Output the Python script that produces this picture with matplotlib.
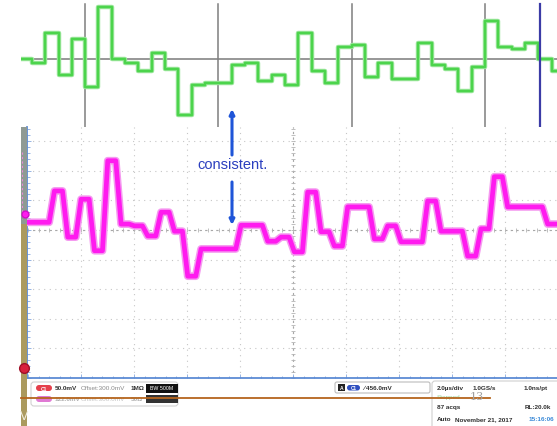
import numpy as np
import matplotlib.pyplot as plt
from matplotlib.patches import Rectangle, FancyBboxPatch
from matplotlib.ticker import MultipleLocator, NullFormatter

# digitised samples (ADC codes), one per sample period
codes = [0, -2, 13, -8, 10, -14, 26, 0, -2, -6, 3, -5, -28, -13, -12, -12, -3, -2,
         -11, -8, -13, 13, -6, -12, 6, 7, -9, -2, -10, -10, 8, -3, -5, -16, -4, 19,
         6, 5, 8, 0, -6]
# analog channel level held during each sample (mV)
levels_mv = [313, 313, 366, 288, 352, 265, 417, 310, 307, 290, 330, 298, 222, 268,
             268, 268, 308, 308, 281, 288, 263, 364, 297, 273, 339, 339, 285, 307,
             280, 280, 349, 298, 298, 256, 302, 390, 339, 339, 339, 310, 310]
sample_period_us = 0.503
first_edge_us = -0.358
marker_edges = [5, 15, 25, 35]
cursor_us = 19.32

# scope settings
us_per_div = 2.0
mv_per_div = 50.0
offset_mv = 300.0

W, H = 557, 427
fig = plt.figure(figsize=(W / 100, H / 100), dpi=100)
fig.patch.set_facecolor('white')
plt.rcParams['font.family'] = ['Liberation Sans', 'DejaVu Sans']


def px_box(x0, y0, x1, y1):
    return [x0 / W, 1 - y1 / H, (x1 - x0) / W, (y1 - y0) / H]


px_per_us = 26.5
px_per_div_y = 29.6
t_right = (W - 28) / px_per_us

edges = first_edge_us + sample_period_us * np.arange(len(codes) + 1)

# ---- top panel: sampled values as steps ----
ax_top = fig.add_axes(px_box(21, 0, W, 128))
ax_top.set_xlim((21 - 28) / px_per_us, t_right)
ax_top.set_ylim(-34, 30)
ax_top.axis('off')
ax_top.axhline(0, color='#7a7a7a', lw=1.1, zorder=1)
for e in marker_edges:
    ax_top.axvline(edges[e], ymin=0, ymax=1 - 5 / 128, color='#7f7f7f', lw=1.1, zorder=1)
ax_top.axvline(cursor_us, ymin=0, ymax=1 - 5 / 128, color='#3b3ba6', lw=1.6, zorder=3)
ax_top.step(edges, codes + [codes[-1]], where='post', color='#9be69b', lw=3.2, zorder=2)
ax_top.step(edges, codes + [codes[-1]], where='post', color='#4cd44c', lw=1.7, zorder=2)

# ---- main graticule with analog trace ----
ax = fig.add_axes(px_box(27, 128, W, 379))
ax.set_xlim(-1 / px_per_us, t_right)
ylo = offset_mv - (379 - 231) / px_per_div_y * mv_per_div
yhi = offset_mv + (231 - 128) / px_per_div_y * mv_per_div
ax.set_ylim(ylo, yhi)
ax.set_facecolor('white')
for s in ['top', 'right']:
    ax.spines[s].set_visible(False)
for s in ['left', 'bottom']:
    ax.spines[s].set_color('#5d8bd4')
    ax.spines[s].set_linewidth(1.3)
ax.xaxis.set_major_locator(MultipleLocator(us_per_div))
ax.xaxis.set_minor_locator(MultipleLocator(us_per_div / 5))
ax.yaxis.set_major_locator(MultipleLocator(mv_per_div))
ax.yaxis.set_minor_locator(MultipleLocator(mv_per_div / 5))
ax.xaxis.set_major_formatter(NullFormatter())
ax.yaxis.set_major_formatter(NullFormatter())
ax.tick_params(which='both', direction='in', color='#86a8de', width=0.6)
ax.tick_params(which='major', length=3)
ax.tick_params(which='minor', length=1.8)

dot = (0, (1, 4))
for t in np.arange(us_per_div, t_right, us_per_div):
    ax.axvline(t, color='#c6c6c6', lw=0.8, ls=dot, zorder=0)
for v in np.arange(ylo + mv_per_div, yhi, mv_per_div):
    ax.axhline(v, color='#c6c6c6', lw=0.8, ls=dot, zorder=0)
ax.axhline(offset_mv, color='#a8a8a8', lw=0.8, ls=(0, (2, 3)), zorder=0)
ax.axvline(5 * us_per_div, color='#a8a8a8', lw=0.8, ls=(0, (2, 3)), zorder=0)
ax.plot(np.arange(0, t_right, us_per_div / 5), np.full_like(np.arange(0, t_right, us_per_div / 5), offset_mv),
        ls='none', marker='|', ms=2.5, mew=0.6, color='#b4b4b4', zorder=0)
yt = np.arange(ylo, yhi, mv_per_div / 5)
ax.plot(np.full_like(yt, 5 * us_per_div), yt, ls='none', marker='_', ms=2.5, mew=0.6,
        color='#b4b4b4', zorder=0)

# analog trace: each level settles shortly after the sample edge
delay, rise = 0.15, 0.2
tx, ty = [], []
for k, lv in enumerate(levels_mv):
    start = edges[k] + delay + (rise if k else 0)
    tx += [start, edges[k + 1] + delay]
    ty += [lv, lv]
ax.plot(tx, ty, color='#f59af0', lw=5.6, solid_joinstyle='round', zorder=3)
ax.plot(tx, ty, color='#ff1aef', lw=3.4, solid_joinstyle='round', zorder=4)

# ---- overlay: scope chrome, labels and annotation ----
ov = fig.add_axes([0, 0, 1, 1])
ov.set_xlim(0, W)
ov.set_ylim(H, 0)
ov.axis('off')

ov.add_patch(Rectangle((21, 128), 5.5, 97, color='#8f9a94', lw=0))
ov.add_patch(Rectangle((21, 225), 5.5, H - 225, color='#ab9a5e', lw=0))
ov.plot([22, 22], [153, 220], color='#e68ad8', lw=0.8, ls=(0, (2, 2)))
ov.plot([25], [215], marker='o', ms=5, color='#ff1aef', mec='#d010c8')
ov.plot([24], [369], marker='o', ms=7, color='#d8203c', mec='#a01028')
ov.text(24.5, 417, 'V', color='#f2eee0', fontsize=9, ha='center', va='center')

ov.plot([21, 490], [399, 399], color='#b5651d', lw=1.3, zorder=5)

# channel info box
ov.add_patch(FancyBboxPatch((31, 383), 147, 24, boxstyle='round,pad=0,rounding_size=3',
                            fc='white', ec='#d2d2d2', lw=0.8, zorder=2))
ov.add_patch(FancyBboxPatch((36, 386), 16, 6, boxstyle='round,pad=0,rounding_size=3',
                            fc='#e5404c', ec='none', zorder=3))
ov.text(44, 389.2, 'C1', color='white', fontsize=3.5, ha='center', va='center', weight='bold', zorder=4)
ov.text(55, 389, '50.0mV', fontsize=4.6, weight='bold', color='#303030', va='center', zorder=4)
ov.text(81, 389, 'Offset:300.0mV', fontsize=4.6, color='#8a8a8a', va='center', zorder=4)
ov.text(131, 389, '1MΩ', fontsize=4.6, weight='bold', color='#303030', va='center', zorder=4)
ov.add_patch(Rectangle((146, 384.5), 32, 9, fc='#111111', ec='none', zorder=3))
ov.text(162, 389, 'BW 500M', fontsize=3.8, color='white', ha='center', va='center', zorder=4)
ov.add_patch(FancyBboxPatch((36, 397), 16, 6, boxstyle='round,pad=0,rounding_size=3',
                            fc='#e07ad4', ec='none', zorder=3))
ov.text(55, 400, '122.0mV', fontsize=4.6, weight='bold', color='#b0b0b0', va='center', zorder=4)
ov.text(81, 400, 'Offset:300.0mV', fontsize=4.6, color='#c4c4c4', va='center', zorder=4)
ov.text(131, 400, '50Ω', fontsize=4.6, weight='bold', color='#b0b0b0', va='center', zorder=4)
ov.add_patch(Rectangle((146, 396), 32, 8, fc='#333333', ec='none', zorder=3))

# trigger box
ov.add_patch(FancyBboxPatch((335, 383), 95, 11, boxstyle='round,pad=0,rounding_size=2',
                            fc='white', ec='#bcbcbc', lw=0.8, zorder=2))
ov.add_patch(Rectangle((338, 385), 7, 7, fc='#222222', ec='none', zorder=3))
ov.text(341.5, 388.6, 'A', color='white', fontsize=3.6, ha='center', va='center', weight='bold', zorder=4)
ov.add_patch(FancyBboxPatch((347, 386), 13, 5.5, boxstyle='round,pad=0,rounding_size=2.7',
                            fc='#3050c0', ec='none', zorder=3))
ov.text(353.5, 388.8, 'C1', color='white', fontsize=3.3, ha='center', va='center', weight='bold', zorder=4)
ov.text(363, 388.6, '∕ 456.0mV', fontsize=4.6, weight='bold', color='#303030', va='center', zorder=4)

# acquisition box
ov.add_patch(FancyBboxPatch((432, 382), 130, 50, boxstyle='round,pad=0,rounding_size=3',
                            fc='white', ec='#d0d0d0', lw=0.8, zorder=2))
ov.text(437, 389, '2.0µs/div', fontsize=4.6, weight='bold', color='#303030', va='center', zorder=4)
ov.text(473, 389, '1.0GS/s', fontsize=4.6, weight='bold', color='#303030', va='center', zorder=4)
ov.text(524, 389, '1.0ns/pt', fontsize=4.6, weight='bold', color='#303030', va='center', zorder=4)
ov.text(437, 398, 'Stopped', fontsize=4.6, color='#9ad69a', va='center', zorder=4)
ov.text(470, 397.5, '13', fontsize=8, color='#a0a0a0', va='center', family='DejaVu Serif', zorder=6)
ov.text(437, 408, '87 acqs', fontsize=4.6, weight='bold', color='#303030', va='center', zorder=4)
ov.text(525, 408, 'RL:20.0k', fontsize=4.6, weight='bold', color='#303030', va='center', zorder=4)
ov.text(437, 420, 'Auto', fontsize=4.6, weight='bold', color='#303030', va='center', zorder=4)
ov.text(455, 420, 'November 21, 2017', fontsize=4.6, weight='bold', color='#303030', va='center', zorder=4)
ov.text(529, 420, '15:16:06', fontsize=4.6, weight='bold', color='#3a8ad8', va='center', zorder=4)

# annotation
arrow = dict(arrowstyle='-|>', color='#1f55d8', lw=2.2, mutation_scale=7, shrinkA=0, shrinkB=0)
ov.annotate('', xy=(232, 110), xytext=(232, 156), arrowprops=arrow)
ov.annotate('', xy=(232, 226), xytext=(232, 183), arrowprops=arrow)
ov.text(232.5, 165, 'consistent.', color='#2b3fbf', fontsize=10.5, ha='center', va='center')

fig.savefig('out.png', dpi=100)
